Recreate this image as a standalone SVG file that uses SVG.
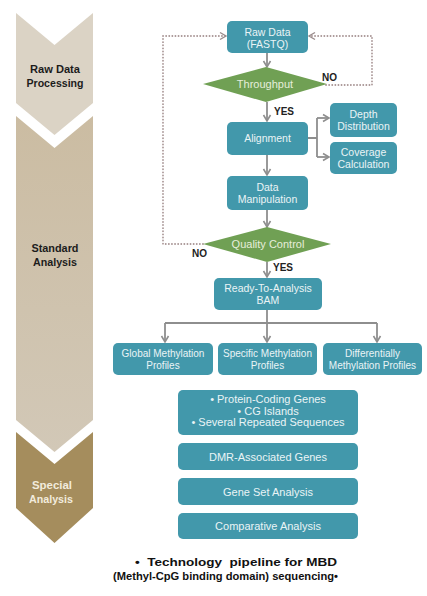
<svg xmlns="http://www.w3.org/2000/svg" width="427" height="596" viewBox="0 0 427 596">
  <defs>
    <linearGradient id="midStage" x1="0" y1="0" x2="0" y2="1">
      <stop offset="0" stop-color="#cbbca2"/>
      <stop offset="1" stop-color="#d2c8b7"/>
    </linearGradient>
    <marker id="arrow" markerUnits="userSpaceOnUse" markerWidth="10" markerHeight="10" refX="8" refY="5" orient="auto">
      <path d="M2,1.5 L8,5 L2,8.5" fill="none" stroke="#8e8e8e" stroke-width="1.6"/>
    </marker>
    <marker id="arrowDot" markerUnits="userSpaceOnUse" markerWidth="10" markerHeight="10" refX="8" refY="5" orient="auto">
      <path d="M2,1.5 L8,5 L2,8.5" fill="none" stroke="#9a8c8c" stroke-width="1.4"/>
    </marker>
  </defs>
  <style>
    .box { fill: #4298ab; }
    .dia { fill: #70a054; }
    .bt { font-family: "Liberation Sans", Arial, sans-serif; font-size: 10.5px; fill: #eaf4f6; text-anchor: middle; }
    .bt11 { font-size: 11px; }
    .bt10 { font-size: 10px; }
    .dt { font-family: "Liberation Sans", Arial, sans-serif; font-size: 11px; fill: #e6eedb; text-anchor: middle; }
    .lbl { font-family: "Liberation Sans", Arial, sans-serif; font-size: 10px; font-weight: bold; fill: #222; }
    .stage { font-family: "Liberation Sans Narrow", "Liberation Sans", Arial, sans-serif; font-weight: bold; font-size: 11.5px; text-anchor: middle; }
    .cap { font-family: "Liberation Sans", Arial, sans-serif; font-weight: bold; font-size: 11.5px; fill: #111; }
    .conn { fill: none; stroke: #8e8e8e; stroke-width: 1.8; }
    .dot { fill: none; stroke: #a99696; stroke-width: 1.8; stroke-dasharray: 0.1 3; stroke-linecap: round; }
  </style>

  <rect width="427" height="596" fill="#ffffff"/>

  <!-- stage chevrons -->
  <g id="stage-raw">
    <path d="M16,13 L54.5,45 L93,13 L93,103 L54.5,135 L16,103 Z" fill="#dbd3c5"/>
    <text class="stage" fill="#1c1c1c" x="55" y="73" textLength="50" lengthAdjust="spacingAndGlyphs">Raw Data</text>
    <text class="stage" fill="#1c1c1c" x="55" y="87" textLength="57" lengthAdjust="spacingAndGlyphs">Processing</text>
  </g>
  <g id="stage-standard">
    <path d="M16,116 L54.5,148 L93,116 L93,420 L54.5,452 L16,420 Z" fill="url(#midStage)"/>
    <text class="stage" fill="#1c1c1c" font-size="12.5" x="55" y="252" textLength="47" lengthAdjust="spacingAndGlyphs">Standard</text>
    <text class="stage" fill="#1c1c1c" font-size="12.5" x="55" y="266" textLength="44" lengthAdjust="spacingAndGlyphs">Analysis</text>
  </g>
  <g id="stage-special">
    <path d="M16,432 L54.5,464 L93,432 L93,508 L54.5,543 L16,508 Z" fill="#a58d5d"/>
    <text class="stage" fill="#f2ebdc" font-size="11" x="52" y="489" textLength="40" lengthAdjust="spacingAndGlyphs">Special</text>
    <text class="stage" fill="#f2ebdc" font-size="11" x="51" y="503" textLength="44" lengthAdjust="spacingAndGlyphs">Analysis</text>
  </g>

  <!-- connectors -->
  <g id="connectors">
    <path class="conn" d="M267,53 V67" marker-end="url(#arrow)"/>
    <path class="conn" d="M267,102 V121" marker-end="url(#arrow)"/>
    <path class="conn" d="M308,138 H317 M317,118 V157"/>
    <path class="conn" d="M317,118 H329" marker-end="url(#arrow)"/>
    <path class="conn" d="M317,157 H329" marker-end="url(#arrow)"/>
    <path class="conn" d="M267,155 V175" marker-end="url(#arrow)"/>
    <path class="conn" d="M267,210 V227" marker-end="url(#arrow)"/>
    <path class="conn" d="M267,262 V277" marker-end="url(#arrow)"/>
    <path class="conn" d="M267,310 V323 M165,323 H377"/>
    <path class="conn" d="M165,323 V342" marker-end="url(#arrow)"/>
    <path class="conn" d="M267,323 V342" marker-end="url(#arrow)"/>
    <path class="conn" d="M377,323 V342" marker-end="url(#arrow)"/>
    <!-- retry loops -->
    <path class="dot" d="M203,244 H163 V36 H226" marker-end="url(#arrowDot)"/>
    <path class="dot" d="M326,85 H372 V36 H309" marker-end="url(#arrowDot)"/>
    <text class="lbl" x="322" y="81">NO</text>
    <text class="lbl" x="274" y="115">YES</text>
    <text class="lbl" x="192" y="257">NO</text>
    <text class="lbl" x="273" y="271">YES</text>
  </g>

  <!-- process nodes -->
  <g id="raw-data">
    <rect class="box" x="227" y="21" width="81" height="32" rx="5"/>
    <text class="bt" x="267.5" y="36">Raw Data</text>
    <text class="bt" x="267.5" y="48">(FASTQ)</text>
  </g>
  <g id="throughput">
    <polygon class="dia" points="203,84 266,67 327,84 266,102"/>
    <text class="dt" x="265" y="88">Throughput</text>
  </g>
  <g id="alignment">
    <rect class="box" x="227" y="122" width="81" height="33" rx="5"/>
    <text class="bt" x="267.5" y="142">Alignment</text>
  </g>
  <g id="depth-distribution">
    <rect class="box" x="330" y="103" width="67" height="34" rx="5"/>
    <text class="bt" x="363.5" y="118">Depth</text>
    <text class="bt" x="363.5" y="130">Distribution</text>
  </g>
  <g id="coverage-calculation">
    <rect class="box" x="330" y="142" width="67" height="32" rx="5"/>
    <text class="bt" x="363.5" y="156">Coverage</text>
    <text class="bt" x="363.5" y="168">Calculation</text>
  </g>
  <g id="data-manipulation">
    <rect class="box" x="227" y="176" width="81" height="34" rx="5"/>
    <text class="bt" x="267.5" y="191">Data</text>
    <text class="bt" x="267.5" y="203">Manipulation</text>
  </g>
  <g id="quality-control">
    <polygon class="dia" points="203,244 267,227 331,244 267,262"/>
    <text class="dt" font-size="11.5" x="268" y="248">Quality Control</text>
  </g>
  <g id="bam">
    <rect class="box" x="214" y="278" width="108" height="32" rx="5"/>
    <text class="bt" x="268" y="292">Ready-To-Analysis</text>
    <text class="bt" x="268" y="304">BAM</text>
  </g>
  <g id="global-methylation">
    <rect class="box" x="113" y="343" width="100" height="32" rx="5"/>
    <text class="bt bt10" x="163" y="357">Global Methylation</text>
    <text class="bt bt10" x="163" y="369">Profiles</text>
  </g>
  <g id="specific-methylation">
    <rect class="box" x="218" y="343" width="99" height="32" rx="5"/>
    <text class="bt bt10" x="267.5" y="357">Specific Methylation</text>
    <text class="bt bt10" x="267.5" y="369">Profiles</text>
  </g>
  <g id="differential-methylation">
    <rect class="box" x="323" y="343" width="99" height="32" rx="5"/>
    <text class="bt bt10" x="372.5" y="357">Differentially</text>
    <text class="bt bt10" x="372.5" y="369">Methylation Profiles</text>
  </g>
  <g id="regions">
    <rect class="box" x="178" y="390" width="180" height="45" rx="5"/>
    <text class="bt bt11" x="268" y="403">• Protein-Coding Genes</text>
    <text class="bt bt11" x="268" y="414.5">• CG Islands</text>
    <text class="bt bt11" x="268" y="426">• Several Repeated Sequences</text>
  </g>
  <g id="dmr-genes">
    <rect class="box" x="178" y="443" width="180" height="27" rx="5"/>
    <text class="bt bt11" x="268" y="460.5">DMR-Associated Genes</text>
  </g>
  <g id="gene-set">
    <rect class="box" x="178" y="478" width="180" height="27" rx="5"/>
    <text class="bt bt11" x="268" y="495.5">Gene Set Analysis</text>
  </g>
  <g id="comparative">
    <rect class="box" x="178" y="513" width="180" height="26" rx="5"/>
    <text class="bt bt11" x="268" y="530">Comparative Analysis</text>
  </g>

  <!-- caption -->
  <text class="cap" x="135" y="566" textLength="202" lengthAdjust="spacingAndGlyphs" xml:space="preserve">•  Technology  pipeline for MBD</text>
  <text class="cap" x="113" y="580" textLength="225" lengthAdjust="spacingAndGlyphs">(Methyl-CpG binding domain) sequencing•</text>
</svg>
